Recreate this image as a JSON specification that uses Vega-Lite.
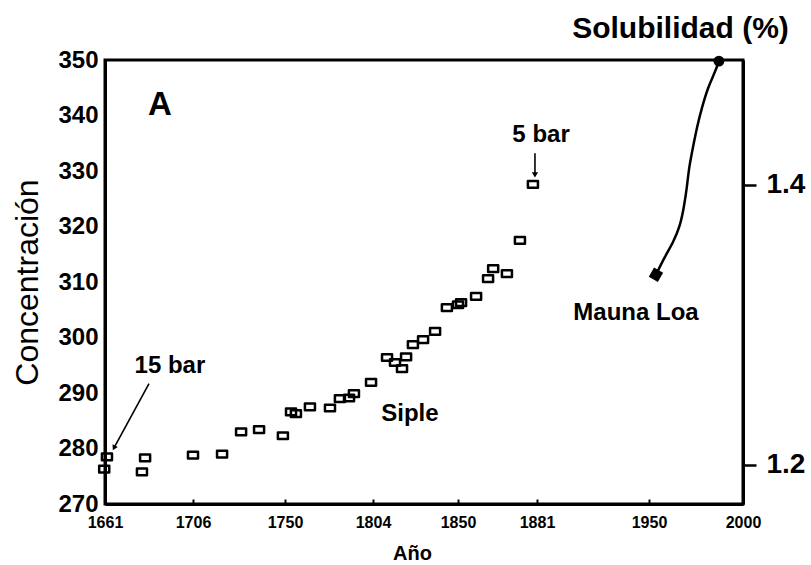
{
  "$schema": "https://vega.github.io/schema/vega-lite/v6.json",
  "width": 638,
  "height": 444,
  "autosize": "none",
  "padding": {"left": 105, "top": 60, "right": 68, "bottom": 61},
  "background": "white",
  "config": {
    "font": "Liberation Sans",
    "view": {"stroke": "#000", "strokeWidth": 3},
    "axis": {"grid": false, "domainColor": "#000", "domainWidth": 3, "tickColor": "#000", "labelColor": "#000", "titleColor": "#000"}
  },
  "datasets": {
    "siple": [
      {"year": 1660.6, "conc": 276.3},
      {"year": 1662.0, "conc": 278.5},
      {"year": 1679.9, "conc": 275.8},
      {"year": 1681.5, "conc": 278.3},
      {"year": 1706.0, "conc": 278.8},
      {"year": 1719.9, "conc": 279.0},
      {"year": 1729.0, "conc": 283.0},
      {"year": 1737.6, "conc": 283.4},
      {"year": 1749.0, "conc": 282.3},
      {"year": 1753.7, "conc": 286.6},
      {"year": 1756.7, "conc": 286.3},
      {"year": 1765.3, "conc": 287.5},
      {"year": 1777.6, "conc": 287.3},
      {"year": 1783.7, "conc": 289.0},
      {"year": 1789.3, "conc": 289.1},
      {"year": 1792.3, "conc": 289.9},
      {"year": 1802.8, "conc": 291.9},
      {"year": 1811.6, "conc": 296.4},
      {"year": 1815.9, "conc": 295.5},
      {"year": 1819.7, "conc": 294.4},
      {"year": 1821.9, "conc": 296.5},
      {"year": 1825.6, "conc": 298.7},
      {"year": 1831.1, "conc": 299.6},
      {"year": 1837.6, "conc": 301.1},
      {"year": 1844.0, "conc": 305.4},
      {"year": 1850.0, "conc": 305.9},
      {"year": 1851.2, "conc": 306.3},
      {"year": 1857.1, "conc": 307.4},
      {"year": 1861.8, "conc": 310.6},
      {"year": 1863.8, "conc": 312.4},
      {"year": 1869.2, "conc": 311.5},
      {"year": 1874.3, "conc": 317.5},
      {"year": 1879.4, "conc": 327.6}
    ],
    "mauna": [
      {"year": 1953.7, "conc": 311.3},
      {"year": 1958.5, "conc": 314.6},
      {"year": 1962.8, "conc": 317.1},
      {"year": 1966.5, "conc": 320.0},
      {"year": 1968.6, "conc": 323.5},
      {"year": 1970.2, "conc": 327.1},
      {"year": 1971.3, "conc": 330.7},
      {"year": 1973.4, "conc": 334.3},
      {"year": 1975.5, "conc": 337.9},
      {"year": 1978.2, "conc": 341.5},
      {"year": 1981.4, "conc": 345.1},
      {"year": 1985.1, "conc": 347.8},
      {"year": 1987.2, "conc": 349.8}
    ],
    "maunaStart": [{"year": 1953.7, "conc": 311.3}],
    "maunaEnd": [{"year": 1987.2, "conc": 349.8}],
    "arrows": [
      {"id": "15 bar", "year": 1683.5, "conc": 291.7},
      {"id": "15 bar", "year": 1665.6, "conc": 280.1},
      {"id": "5 bar", "year": 1880.2, "conc": 333.2},
      {"id": "5 bar", "year": 1880.2, "conc": 329.3}
    ],
    "head15": [{"year": 1665.6, "conc": 280.1}],
    "head5": [{"year": 1880.2, "conc": 329.3}],
    "labels": [
      {"label": "15 bar", "year": 1694.2, "conc": 294.9},
      {"label": "Siple", "year": 1824.0, "conc": 286.3},
      {"label": "5 bar", "year": 1883.5, "conc": 336.5},
      {"label": "Mauna Loa", "year": 1942.0, "conc": 304.4}
    ],
    "panel": [{"label": "A", "year": 1689.1, "conc": 341.9}],
    "sol": [{"sol": 1.2}, {"sol": 1.4}]
  },
  "layer": [
    {
      "encoding": {
        "x": {
          "field": "year", "type": "quantitative",
          "scale": {"domain": [1661, 1706, 1750, 1804, 1850, 1881, 1950, 2000], "range": [0, 88, 180, 268, 353, 432, 544, 638], "nice": false, "zero": false},
          "axis": {
            "title": "Año", "values": [1661, 1706, 1750, 1804, 1850, 1881, 1950, 2000], "format": "d",
            "labelFontSize": 16, "labelFontWeight": "bold", "labelPadding": 15, "tickSize": -5, "tickWidth": 2,
            "labelFlush": false, "labelOverlap": false,
            "titleFontSize": 20, "titleFontWeight": "bold", "titleX": 307, "titleY": 49, "titleBaseline": "middle", "titleAlign": "center"
          }
        },
        "y": {
          "field": "conc", "type": "quantitative",
          "scale": {"domain": [270, 350], "nice": false, "zero": false},
          "axis": {
            "title": "Concentración", "values": [270, 280, 290, 300, 310, 320, 330, 340, 350],
            "labelFontSize": 24, "labelFontWeight": "bold", "labelPadding": 7, "ticks": false,
            "titleFontSize": 32, "titleFontWeight": "normal", "titleX": -78, "titleY": 222, "titleBaseline": "middle", "titleAlign": "center", "titleAngle": -90
          }
        }
      },
      "layer": [
        {
          "data": {"name": "siple"},
          "mark": {"type": "point", "shape": "M-1.2,-0.8H1.2V0.8H-1.2Z", "size": 70, "filled": false, "stroke": "#000", "strokeWidth": 2.5, "strokeJoin": "round", "opacity": 1}
        },
        {
          "data": {"name": "mauna"},
          "mark": {"type": "line", "interpolate": "basis", "color": "#000", "strokeWidth": 2.5}
        },
        {
          "data": {"name": "maunaStart"},
          "mark": {"type": "point", "shape": "square", "size": 110, "filled": true, "color": "#000", "angle": 30, "opacity": 1}
        },
        {
          "data": {"name": "maunaEnd"},
          "mark": {"type": "point", "shape": "circle", "size": 120, "filled": true, "color": "#000", "opacity": 1}
        },
        {
          "data": {"name": "arrows"},
          "mark": {"type": "line", "color": "#000", "strokeWidth": 1.6},
          "encoding": {"detail": {"field": "id"}}
        },
        {
          "data": {"name": "head15"},
          "mark": {"type": "point", "shape": "triangle-up", "size": 35, "filled": true, "color": "#000", "angle": 207, "opacity": 1}
        },
        {
          "data": {"name": "head5"},
          "mark": {"type": "point", "shape": "triangle-down", "size": 40, "filled": true, "color": "#000", "opacity": 1}
        },
        {
          "data": {"name": "labels"},
          "mark": {"type": "text", "fontSize": 24, "fontWeight": "bold", "color": "#000", "align": "center", "baseline": "middle"},
          "encoding": {"text": {"field": "label"}}
        },
        {
          "data": {"name": "panel"},
          "mark": {"type": "text", "fontSize": 33, "fontWeight": "bold", "color": "#000", "align": "center", "baseline": "middle"},
          "encoding": {"text": {"field": "label"}}
        }
      ]
    },
    {
      "data": {"name": "sol"},
      "mark": {"type": "point", "opacity": 0},
      "encoding": {
        "y": {
          "field": "sol", "type": "quantitative",
          "scale": {"domain": [1.1721, 1.4893], "nice": false, "zero": false},
          "axis": {
            "orient": "right", "title": "Solubilidad (%)", "values": [1.2, 1.4], "format": ".1f",
            "labelFontSize": 28, "labelFontWeight": "bold", "labelPadding": 10, "tickSize": 13, "tickWidth": 2.5,
            "labelFlush": false,
            "titleFontSize": 30, "titleFontWeight": "bold", "titleAngle": 0, "titleX": -63, "titleY": -32, "titleAlign": "center", "titleBaseline": "middle"
          }
        }
      }
    }
  ],
  "resolve": {"scale": {"y": "independent"}, "axis": {"y": "independent"}}
}
